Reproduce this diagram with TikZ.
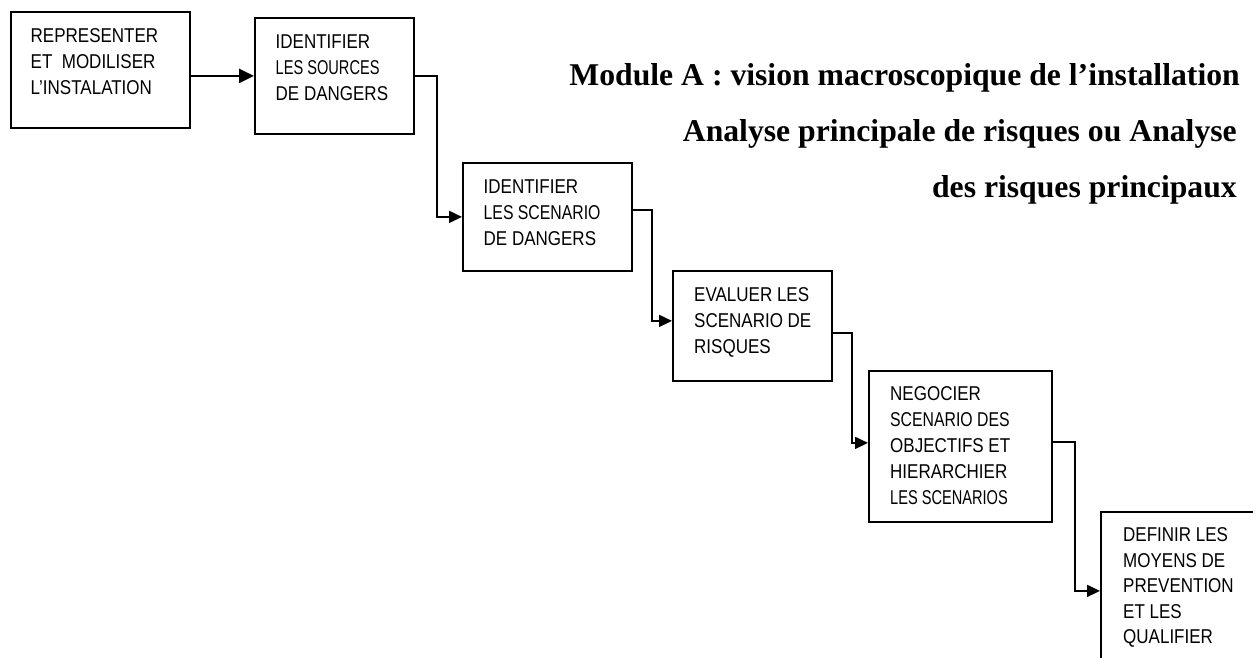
\documentclass[tikz,border=0pt]{standalone}
\usepackage{fontspec}
\setmainfont{Liberation Serif}
\newfontfamily\boxfont[FakeStretch=0.85]{Liberation Sans}
\newfontfamily\narrowA[FakeStretch=0.73]{Liberation Sans}
\newfontfamily\narrowB[FakeStretch=0.79]{Liberation Sans}
\usetikzlibrary{arrows.meta}
\tikzset{
  stepbox/.style={draw, line width=1.8pt, inner sep=0pt, anchor=north west},
  boxtext/.style={anchor=north west, inner sep=0pt, align=left,
    font=\boxfont\fontsize{20}{26}\selectfont},
  titletext/.style={anchor=base east, inner sep=0pt,
    font=\bfseries\fontsize{31.7}{36}\selectfont},
  conn/.style={line width=1.8pt, -{Triangle[length=13pt,width=12pt]}},
}
\begin{document}
\begin{tikzpicture}[x=1pt,y=-1pt]
\useasboundingbox (0,0) rectangle (1253,657);
\begin{scope}
\clip (0,0) rectangle (1253,657);
\node[stepbox, minimum width=179pt, minimum height=116pt] (b1) at (10,11) {};
\node[stepbox, minimum width=159pt, minimum height=116pt] (b2) at (254,17) {};
\node[stepbox, minimum width=169pt, minimum height=108pt] (b3) at (462,162) {};
\node[stepbox, minimum width=159pt, minimum height=110pt] (b4) at (672,270) {};
\node[stepbox, minimum width=183pt, minimum height=151pt] (b5) at (868,370) {};
\node[stepbox, minimum width=170pt, minimum height=158pt] (b6) at (1100,511) {};
\end{scope}

\node[boxtext] (t1) at ([shift={(20.5,17.2)}]b1.north west)
  {REPRESENTER\\ET\ \ MODILISER\\L’INSTALATION};
\node[boxtext] (t2) at ([shift={(21.5,17.7)}]b2.north west)
  {IDENTIFIER\\{\narrowA LES SOURCES}\\DE DANGERS};
\node[boxtext] (t3) at ([shift={(21.5,17.7)}]b3.north west)
  {IDENTIFIER\\{\narrowB LES SCENARIO}\\DE DANGERS};
\node[boxtext] (t4) at ([shift={(22,17.7)}]b4.north west)
  {EVALUER LES\\SCENARIO DE\\RISQUES};
\node[boxtext] (t5) at ([shift={(22,16.7)}]b5.north west)
  {NEGOCIER\\{\narrowB SCENARIO DES}\\OBJECTIFS ET\\HIERARCHIER\\{\narrowA LES SCENARIOS}};
\node[boxtext, font=\boxfont\fontsize{20}{25.5}\selectfont] (t6) at ([shift={(23,16.7)}]b6.north west)
  {DEFINIR LES\\MOYENS DE\\PREVENTION\\ET LES\\QUALIFIER};

\node[titletext] (h1) at (1240,85) {Module A : vision macroscopique de l’installation};
\node[titletext] (h2) at (1237,141) {Analyse principale de risques ou Analyse};
\node[titletext] (h3) at (1237,197) {des risques principaux};

\draw[conn, line width=2.4pt, -{Triangle[length=15pt,width=14pt]}] (b1.east |- b2.west) -- (b2.west);
\draw[conn] (b2.east) -- ++(22,0) |- (b3.west);
\draw[conn] ([yshift=7pt]b3.east) -- ++(19,0) |- ([yshift=5pt]b4.west);
\draw[conn] ([yshift=-7pt]b4.east) -- ++(19,0) |- ([yshift=3.5pt]b5.west);
\draw[conn] ([yshift=4.5pt]b5.east) -- ++(22,0) |- (b6.west);
\end{tikzpicture}
\end{document}
